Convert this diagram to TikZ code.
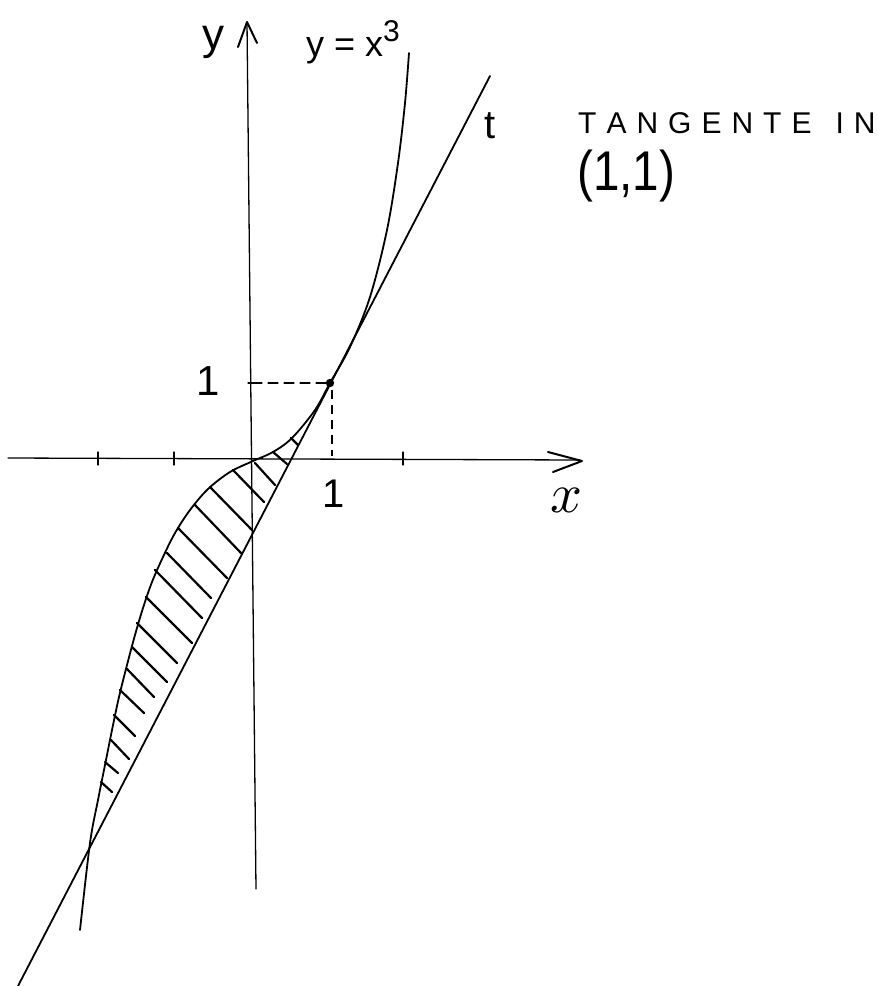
\documentclass[tikz,border=0pt]{standalone}
\usepackage{fontspec}
\setmainfont{Liberation Sans}
\begin{document}
\begin{tikzpicture}[x=1pt,y=-1pt, line cap=round, line join=round,
  curve/.style={line width=1.8pt},
  axis/.style={line width=1.3pt},
  tip/.style={line width=2pt},
  hatch/.style={line width=2.2pt},
  dashh/.style={line width=1.2pt, dash pattern=on 10pt off 6pt},
  dashv/.style={line width=2pt, dash pattern=on 9pt off 6pt, line cap=butt},
  lbl/.style={inner sep=0pt}]
\useasboundingbox (0,0) rectangle (877,986);

% axes
\coordinate (xs) at (8,458);
\coordinate (xe) at (580,460);
\coordinate (ys) at (256,889);
\coordinate (ye) at (247,22);
\draw[axis] (xs) -- (xe);
\draw[axis] (ys) -- (ye);
\coordinate (xa1) at (548,452);
\coordinate (xa2) at (582,461);
\coordinate (xa3) at (553,472);
\draw[tip] (xa1) -- (xa2) -- (xa3);
\coordinate (ya1) at (238,47);
\coordinate (ya2) at (247,22);
\coordinate (ya3) at (257,43);
\draw[tip] (ya1) -- (ya2) -- (ya3);
% ticks
\foreach \tx in {98,174,403}{
  \draw[axis] (\tx,452) -- (\tx,465);
}
\draw[axis] (248,383) -- (256,383);

% tangent
\coordinate (t1) at (18,986);
\coordinate (t2) at (490,76);
\draw[curve] (t1) -- (t2);

% curve y=x^3
\draw[curve] plot[smooth, tension=0.55] coordinates {(80,930) (90,843) (98,800) (105,765) (112,730) (119,697) (127,665) (135,635) (143,608) (152,582) (163,557) (175,533) (190,510) (208,489) (230,472) (253,461) (273,452) (292,438) (315,410) (330,383) (350,347) (370,297) (387,230) (398,163) (405,103) (409,53)};

% hatching
\foreach \a/\b/\c/\d in {291/438/298/445, 273/452/287/464, 255/463/275/485, 233/470/264/502, 210/487/252/530, 195/505/241/553, 178/528/227/578, 167/553/211/598, 155/570/202/618, 146/597/192/643, 137/623/177/663, 132/647/167/682, 127/669/154/697, 120/690/144/713, 114/715/135/736, 111/740/129/759, 105/762/118/773, 101/782/112/792}{
  \draw[hatch] (\a,\b) -- (\c,\d);
}

% point (1,1) and dashed lines
\coordinate (yone) at (252,383);
\coordinate (pt) at (330,383);
\coordinate (xone) at (332,456);
\coordinate (ptb) at (332,390);
\draw[dashh] (yone) -- (pt);
\draw[dashv] (ptb) -- (xone);
\fill (pt) circle (4.2);

% labels
\node[lbl, anchor=base] (ylab) at (213,49) {\fontsize{44}{44}\selectfont y};
\node[lbl, anchor=base west] (flab) at (306,56) {\fontsize{36}{36}\selectfont y = x\raisebox{15pt}{\fontsize{30}{30}\selectfont 3}};
\node[lbl, anchor=base] (tlab) at (490,138) {\fontsize{40}{40}\selectfont t};
\node[lbl, anchor=base west] (tang) at (578,133) {\fontsize{30}{30}\selectfont T\kern10pt A\kern10pt N\kern10pt G\kern10pt E\kern10pt N\kern10pt T\kern10pt E\kern24pt I\kern10pt N};
\node[lbl, anchor=base west] (pnt) at (577,190) {\scalebox{0.85}[1]{\fontsize{56}{56}\selectfont (1,1)}};
\node[lbl, anchor=base] (one1) at (208,395) {\fontsize{42}{42}\selectfont 1};
\node[lbl, anchor=base] (one2) at (334,507) {\fontsize{40}{40}\selectfont 1};
\node[lbl, anchor=base] (xlab) at (566,512) {\scalebox{5.6}{$x$}};
\end{tikzpicture}
\end{document}
